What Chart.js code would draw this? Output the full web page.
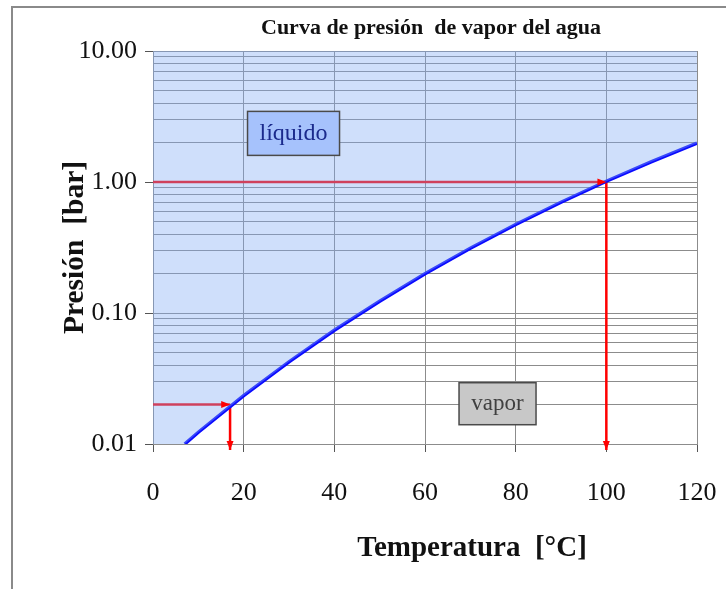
<!DOCTYPE html>
<html>
<head>
<meta charset="utf-8">
<script src="https://cdn.jsdelivr.net/npm/chart.js@4.4.0/dist/chart.umd.min.js"></script>
<style>
  html, body { margin: 0; background: #fff; }
  #wrap { width: 726px; height: 589px; position: relative; }
</style>
</head>
<body>
<div id="wrap"><canvas id="grafica"></canvas></div>
<script>
// curva de presion de vapor
const temperatura = [7, 10, 20, 30, 40, 50, 60, 70, 80, 90, 100, 110, 120];
const presion = [0.010, 0.0123, 0.0234, 0.0424, 0.0738, 0.123, 0.199, 0.312, 0.474, 0.701, 1.013, 1.43, 1.98];

// lineas rojas de referencia (punto de ebullicion y punto a 0.02 bar)
const refTemp = [100, 17];
const refPres = [1.0, 0.02];

const yMayores = [0.01, 0.1, 1, 10];
const xTicks = [0, 20, 40, 60, 80, 100, 120];

const zonas = ['líquido', 'vapor'];
const zonaTemp = [31, 76];
const zonaPres = [2.35, 0.0203];

const FUENTE = '"Liberation Serif", "Times New Roman", serif';

// ticks del eje log: 1..9 por decada
const yTicks = [];
for (let i = 0; i < yMayores.length - 1; i++) {
    for (let k = 1; k <= 9; k++) yTicks.push(k === 1 ? yMayores[i] : yMayores[i] * k);
}
yTicks.push(yMayores[yMayores.length - 1]);

const curva = temperatura.map((t, i) => ({ x: t, y: presion[i] }));
const relleno = [{ x: xTicks[0], y: yMayores[0] }].concat(curva);

const rojo = (pts, flecha) => ({
    data: pts, showLine: true, borderColor: '#ff0000', borderWidth: 2.5,
    pointRadius: 0, fill: false, flecha: flecha
});

const datasets = [
    { data: relleno, showLine: true, borderWidth: 0, pointRadius: 0,
      backgroundColor: 'rgba(130,170,245,0.38)', fill: 'end' },
    { data: curva, showLine: true, borderColor: '#0a0aff', borderWidth: 3.5,
      pointRadius: 0, fill: false }
];
refTemp.forEach((t, i) => {
    datasets.push(rojo([{ x: xTicks[0], y: refPres[i] }, { x: t, y: refPres[i] }], 0.1));
    datasets.push(rojo([{ x: t, y: refPres[i] }, { x: t, y: yMayores[0] }], 6));
});

const decoracion = {
    id: 'decoracion',
    beforeDraw(chart) {
        const ctx = chart.ctx;
        ctx.save();
        ctx.strokeStyle = '#8a8a8a';
        ctx.lineWidth = 2;
        ctx.beginPath();
        ctx.moveTo(12, chart.height);
        ctx.lineTo(12, 7);
        ctx.lineTo(chart.width, 7);
        ctx.stroke();
        ctx.restore();
    },
    afterDatasetsDraw(chart) {
        const ctx = chart.ctx, a = chart.chartArea;
        const sx = chart.scales.x, sy = chart.scales.y;
        ctx.save();
        // flechas
        chart.data.datasets.forEach((ds, i) => {
            if (!ds.flecha) return;
            const pts = chart.getDatasetMeta(i).data;
            const p0 = pts[pts.length - 2], p1 = pts[pts.length - 1];
            const ang = Math.atan2(p1.y - p0.y, p1.x - p0.x);
            const tx = p1.x + Math.cos(ang) * ds.flecha, ty = p1.y + Math.sin(ang) * ds.flecha;
            ctx.strokeStyle = ds.borderColor;
            ctx.lineWidth = ds.borderWidth;
            ctx.beginPath(); ctx.moveTo(p1.x, p1.y); ctx.lineTo(tx, ty); ctx.stroke();
            const L = 9, W = 3.5;
            const bx = tx - Math.cos(ang) * L, by = ty - Math.sin(ang) * L;
            ctx.fillStyle = ds.borderColor;
            ctx.beginPath();
            ctx.moveTo(tx, ty);
            ctx.lineTo(bx - Math.sin(ang) * W, by + Math.cos(ang) * W);
            ctx.lineTo(bx + Math.sin(ang) * W, by - Math.cos(ang) * W);
            ctx.closePath();
            ctx.fill();
        });
        // cajas de zona
        const estilos = [
            { w: 92, h: 44, fondo: '#a6c2fc', texto: '#1b2a8c', size: 24 },
            { w: 77, h: 42, fondo: '#c8c8c8', texto: '#404040', size: 23 }
        ];
        zonas.forEach((z, i) => {
            const e = estilos[i];
            const cx = sx.getPixelForValue(zonaTemp[i]), cy = sy.getPixelForValue(zonaPres[i]);
            ctx.fillStyle = e.fondo;
            ctx.fillRect(cx - e.w / 2, cy - e.h / 2, e.w, e.h);
            ctx.strokeStyle = '#4a4a4a';
            ctx.lineWidth = 1.5;
            ctx.strokeRect(cx - e.w / 2, cy - e.h / 2, e.w, e.h);
            ctx.fillStyle = e.texto;
            ctx.font = e.size + 'px ' + FUENTE;
            ctx.textAlign = 'center';
            ctx.textBaseline = 'middle';
            ctx.fillText(z, cx, cy);
        });
        // titulo y titulo del eje x
        const mx = (a.left + a.right) / 2;
        ctx.fillStyle = '#111';
        ctx.textAlign = 'center';
        ctx.textBaseline = 'middle';
        ctx.font = 'bold 22px ' + FUENTE;
        ctx.fillText('Curva de presión  de vapor del agua', mx + 6, 28);
        ctx.font = 'bold 29px ' + FUENTE;
        ctx.fillText('Temperatura  [°C]', mx + 47, 549);
        ctx.restore();
    }
};

new Chart(document.getElementById('grafica'), {
    type: 'scatter',
    data: { datasets: datasets },
    options: {
        responsive: true,
        maintainAspectRatio: false,
        animation: false,
        layout: { padding: { top: 51, right: 29, left: 0, bottom: 0 } },
        plugins: { legend: { display: false }, tooltip: { enabled: false } },
        scales: {
            x: {
                type: 'linear', min: xTicks[0], max: xTicks[xTicks.length - 1],
                afterBuildTicks: s => { s.ticks = xTicks.map(v => ({ value: v })); },
                afterFit: s => { s.height = 145; s.paddingLeft = 0; s.paddingRight = 0; },
                grid: { color: '#8c8c8c', lineWidth: 1, tickLength: 8, tickColor: '#555' },
                border: { color: '#8c8c8c' },
                ticks: { autoSkip: false, maxRotation: 0, padding: 26, color: '#111',
                         font: { family: FUENTE, size: 26 } }
            },
            y: {
                type: 'logarithmic', min: yMayores[0], max: yMayores[yMayores.length - 1],
                afterBuildTicks: s => { s.ticks = yTicks.map(v => ({ value: v, major: yMayores.includes(v) })); },
                afterFit: s => { s.width = 153; },
                grid: {
                    color: '#8c8c8c', lineWidth: 1, tickLength: 8,
                    tickColor: c => (c.tick && yMayores.includes(c.tick.value)) ? '#555' : 'rgba(0,0,0,0)'
                },
                border: { color: '#8c8c8c' },
                ticks: {
                    autoSkip: false, padding: 8, color: '#111',
                    font: { family: FUENTE, size: 26 },
                    callback: v => yMayores.includes(v) ? v.toFixed(2) : ''
                },
                title: {
                    display: true, text: 'Presión  [bar]', color: '#111',
                    font: { family: FUENTE, size: 29.5, weight: 'bold' },
                    padding: { top: 58, bottom: 0 }
                }
            }
        }
    },
    plugins: [decoracion]
});
</script>
</body>
</html>
